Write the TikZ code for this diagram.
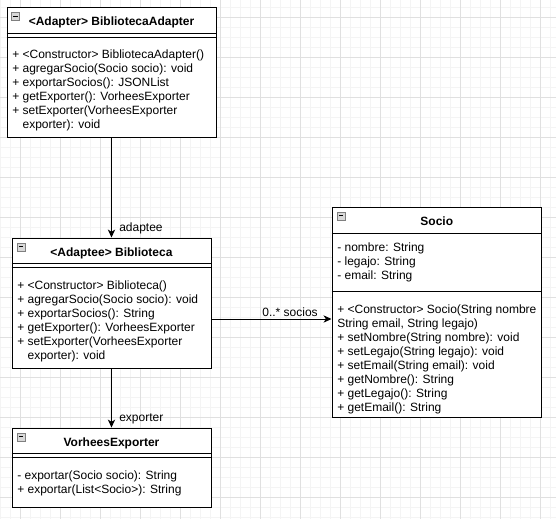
\documentclass[tikz,border=0pt]{standalone}
\usepackage{fontspec}
\setmainfont{Liberation Sans}
\usetikzlibrary{arrows.meta,fit}

\definecolor{gridmajor}{HTML}{E0E0E0}
\definecolor{gridminor}{HTML}{F4F4F4}
\definecolor{iconfill}{HTML}{D8D8D8}
\definecolor{iconline}{HTML}{7F7F7F}

\tikzset{
  classbox/.style={draw=black, fill=white, line width=0.75pt, inner sep=0pt},
  sepline/.style={draw=black, line width=0.75pt},
  member/.style={anchor=base west, inner sep=0pt, font=\fontsize{9pt}{10.5pt}\selectfont},
  classtitle/.style={anchor=base, inner sep=0pt, font=\fontsize{9pt}{10.5pt}\selectfont\bfseries},
  rolelabel/.style={inner sep=0pt, font=\fontsize{9pt}{10.5pt}\selectfont},
  assoc/.style={draw=black, line width=0.75pt, -{Stealth[length=6pt,width=5.5pt,inset=1.8pt]}},
  collapse/.style={rectangle, draw=iconline, fill=iconfill, line width=0.6pt,
    minimum size=6pt, inner sep=0pt, anchor=north west,
    path picture={\draw[black, line width=0.75pt]
      ([xshift=1.4pt]path picture bounding box.west) --
      ([xshift=-1.4pt]path picture bounding box.east);}},
}

\begin{document}
\begin{tikzpicture}[x=0.75pt, y=-0.75pt]
  \useasboundingbox (0,0) rectangle (556,519);
  \fill[white] (0,0) rectangle (556,519);

  % background grid: fine lines every 10, heavier every 40
  \foreach \x in {0,10,...,550} \draw[gridminor, line width=0.75pt] (\x,0) -- (\x,519);
  \foreach \y in {7,17,...,517} \draw[gridminor, line width=0.75pt] (0,\y) -- (556,\y);
  \foreach \x in {20,60,...,540} \draw[gridmajor, line width=0.75pt] (\x,0) -- (\x,519);
  \foreach \y in {17,57,...,497} \draw[gridmajor, line width=0.75pt] (0,\y) -- (556,\y);

  % ---------- BibliotecaAdapter ----------
  \node[classbox, fit={(7,7) (216,137)}] (adapter) {};
  \node[collapse] (adapter-icon) at ([shift={(4.5,5.5)}]adapter.north west) {};
  \node[classtitle] (adapter-title) at (111.5,25) {<Adapter> BibliotecaAdapter};
  \draw[sepline] (adapter.west |- 0,33) -- (adapter.east |- 0,33);
  \draw[sepline] (adapter.west |- 0,37) -- (adapter.east |- 0,37);
  \node[member] (adapter-m1) at (12,58)  {+ <Constructor> BibliotecaAdapter()};
  \node[member] (adapter-m2) at (12,72)  {+ agregarSocio(Socio socio): void};
  \node[member] (adapter-m3) at (12,86)  {+ exportarSocios(): JSONList};
  \node[member] (adapter-m4) at (12,100) {+ getExporter(): VorheesExporter};
  \node[member] (adapter-m5) at (12,114) {+ setExporter(VorheesExporter};
  \node[member] (adapter-m6) at (12,128) {\hphantom{+ }exporter): void};

  % ---------- Biblioteca ----------
  \node[classbox, fit={(12,238) (211,368)}] (biblioteca) {};
  \node[collapse] (biblioteca-icon) at ([shift={(5,5)}]biblioteca.north west) {};
  \node[classtitle] (biblioteca-title) at (111.5,256) {<Adaptee> Biblioteca};
  \draw[sepline] (biblioteca.west |- 0,263) -- (biblioteca.east |- 0,263);
  \draw[sepline] (biblioteca.west |- 0,267) -- (biblioteca.east |- 0,267);
  \node[member] (biblioteca-m1) at (17,289) {+ <Constructor> Biblioteca()};
  \node[member] (biblioteca-m2) at (17,303) {+ agregarSocio(Socio socio): void};
  \node[member] (biblioteca-m3) at (17,317) {+ exportarSocios(): String};
  \node[member] (biblioteca-m4) at (17,331) {+ getExporter(): VorheesExporter};
  \node[member] (biblioteca-m5) at (17,345) {+ setExporter(VorheesExporter};
  \node[member] (biblioteca-m6) at (17,359) {\hphantom{+ }exporter): void};

  % ---------- VorheesExporter ----------
  \node[classbox, fit={(12,428) (211,507)}] (vorhees) {};
  \node[collapse] (vorhees-icon) at ([shift={(5,5)}]vorhees.north west) {};
  \node[classtitle] (vorhees-title) at (111.5,446) {VorheesExporter};
  \draw[sepline] (vorhees.west |- 0,453) -- (vorhees.east |- 0,453);
  \draw[sepline] (vorhees.west |- 0,457) -- (vorhees.east |- 0,457);
  \node[member] (vorhees-m1) at (17,479) {- exportar(Socio socio): String};
  \node[member] (vorhees-m2) at (17,493) {+ exportar(List<Socio>): String};

  % ---------- Socio ----------
  \node[classbox, fit={(332,207) (541.5,417)}] (socio) {};
  \node[collapse] (socio-icon) at ([shift={(5,5)}]socio.north west) {};
  \node[classtitle] (socio-title) at (436.75,225) {Socio};
  \draw[sepline] (socio.west |- 0,233) -- (socio.east |- 0,233);
  \node[member] (socio-a1) at (337,251) {- nombre: String};
  \node[member] (socio-a2) at (337,265) {- legajo: String};
  \node[member] (socio-a3) at (337,279) {- email: String};
  \draw[sepline] (socio.west |- 0,291) -- (socio.east |- 0,291);
  \node[member] (socio-m1) at (337,313) {+ <Constructor> Socio(String nombre};
  \node[member] (socio-m2) at (337,327) {String email, String legajo)};
  \node[member] (socio-m3) at (337,341) {+ setNombre(String nombre): void};
  \node[member] (socio-m4) at (337,355) {+ setLegajo(String legajo): void};
  \node[member] (socio-m5) at (337,369) {+ setEmail(String email): void};
  \node[member] (socio-m6) at (337,383) {+ getNombre(): String};
  \node[member] (socio-m7) at (337,397) {+ getLegajo(): String};
  \node[member] (socio-m8) at (337,411) {+ getEmail(): String};

  % ---------- associations ----------
  \draw[assoc] (adapter.south) -- (biblioteca.north);
  \node[rolelabel, anchor=base west] (adaptee-label) at (119,231) {adaptee};

  \draw[assoc] (biblioteca.south) -- (vorhees.north);
  \node[rolelabel, anchor=base west] (exporter-label) at (119,421) {exporter};

  \coordinate (socios-row) at (0,319);
  \draw[assoc] (biblioteca.east |- socios-row) -- (socio.west |- socios-row);
  \node[rolelabel, anchor=base east] (socios-label) at (318,316) {0..* socios};
\end{tikzpicture}
\end{document}
